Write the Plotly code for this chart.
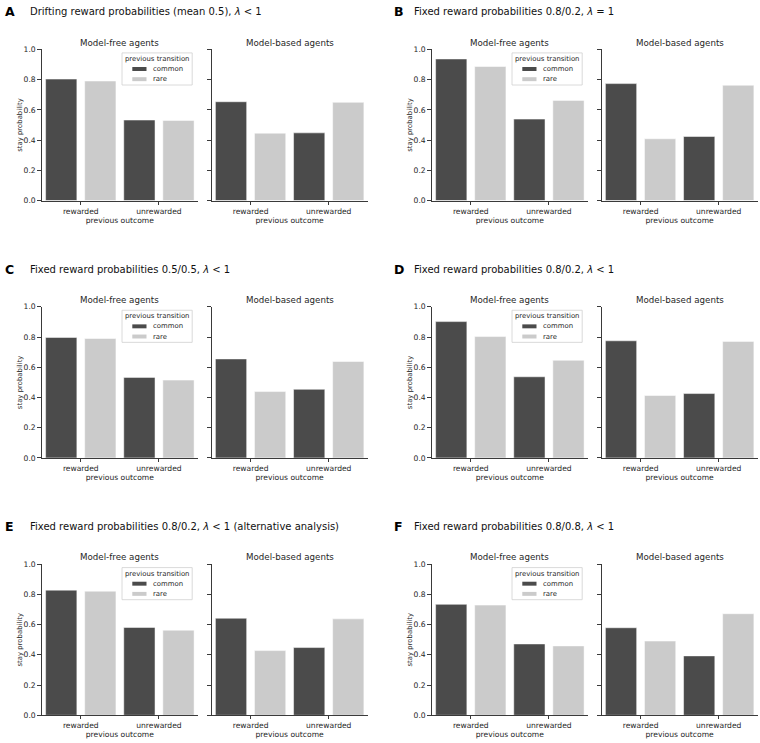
import plotly.graph_objects as go

# categories / labels
outcomes = ["rewarded", "unrewarded"]
transitions = ["common", "rare"]
letters = ["A", "B", "C", "D", "E", "F"]
panel_titles = [
    "Drifting reward probabilities (mean 0.5), <i>λ</i> < 1",
    "Fixed reward probabilities 0.8/0.2, <i>λ</i> = 1",
    "Fixed reward probabilities 0.5/0.5, <i>λ</i> < 1",
    "Fixed reward probabilities 0.8/0.2, <i>λ</i> < 1",
    "Fixed reward probabilities 0.8/0.2, <i>λ</i> < 1 (alternative analysis)",
    "Fixed reward probabilities 0.8/0.8, <i>λ</i> < 1",
]

# stay probabilities per panel, [rewarded, unrewarded]
mf_common = [[0.804, 0.533], [0.937, 0.539], [0.797, 0.533],
             [0.902, 0.537], [0.828, 0.581], [0.734, 0.472]]
mf_rare = [[0.791, 0.530], [0.887, 0.663], [0.790, 0.515],
           [0.803, 0.646], [0.821, 0.563], [0.729, 0.459]]
mb_common = [[0.654, 0.448], [0.774, 0.424], [0.655, 0.454],
             [0.775, 0.426], [0.642, 0.448], [0.579, 0.393]]
mb_rare = [[0.446, 0.650], [0.409, 0.763], [0.439, 0.638],
           [0.413, 0.771], [0.428, 0.638], [0.491, 0.672]]

W, H = 760, 743
DARK = "#4b4b4b"
LIGHT = "#cbcbcb"
AXC = "#3a3a3a"
TXT = "#262626"
FONT = "DejaVu Sans"

def fx(px):
    return px / W

def fy(py):
    return 1 - py / H

col_left = [41.7, 431.7]
row_top = [46.0, 306.5, 567.0]
plot_w = 156.3
plot_h = 153.0
mb_shift = 169.8

fig = go.Figure()
layout = {}
annotations = []
shapes = []

for p in range(6):
    row, col = p // 2, p % 2
    top = row_top[row]
    for j, (name, common, rare) in enumerate([
            ("Model-free agents", mf_common[p], mf_rare[p]),
            ("Model-based agents", mb_common[p], mb_rare[p])]):
        k = 2 * p + j + 1
        left = col_left[col] + j * mb_shift
        xa, ya = f"x{k}", f"y{k}"
        for vals, color, tr in [(common, DARK, "common"), (rare, LIGHT, "rare")]:
            fig.add_trace(go.Bar(
                x=outcomes, y=vals, name=tr, marker_color=color,
                marker_line=dict(color="white", width=0.5),
                xaxis=xa, yaxis=ya, showlegend=False,
            ))
        layout[f"xaxis{k}"] = dict(
            domain=[fx(left), fx(left + plot_w)], anchor=ya,
            type="category", range=[-0.5, 1.5],
            showline=True, linecolor=AXC, linewidth=1,
            ticks="outside", ticklen=3, tickcolor=AXC,
            tickfont=dict(size=7.6, color=TXT), showgrid=False,
            title=dict(text="previous outcome", font=dict(size=7.6, color=TXT), standoff=0),
        )
        layout[f"yaxis{k}"] = dict(
            domain=[fy(top + plot_h), fy(top)], anchor=xa,
            range=[0, 1], dtick=0.2, tick0=0, tickformat=".1f",
            showline=True, linecolor=AXC, linewidth=1,
            ticks="outside", ticklen=3.5, tickcolor=AXC,
            tickfont=dict(size=7.6, color=TXT), showgrid=False, zeroline=False,
            showticklabels=(j == 0),
            title=dict(text="stay probability" if j == 0 else "",
                       font=dict(size=6.9, color=TXT), standoff=0),
        )
        annotations.append(dict(
            x=fx(left + plot_w / 2), y=fy(top - 7), xref="paper", yref="paper",
            text=name, showarrow=False, font=dict(size=8.7, color=TXT),
            xanchor="center", yanchor="middle",
        ))
        if j == 0:
            # legend box inside the model-free subplot
            shapes.append(dict(
                type="rect", xref="paper", yref="paper",
                x0=fx(left + 80.3), x1=fx(left + 150.5),
                y0=fy(top + 36), y1=fy(top + 3.5),
                line=dict(color="#d0d0d0", width=0.8),
                fillcolor="rgba(255,255,255,0.85)", layer="above",
            ))
            annotations.append(dict(
                x=fx(left + 115.4), y=fy(top + 9.5), xref="paper", yref="paper",
                text="previous transition", showarrow=False,
                font=dict(size=6.9, color=TXT), xanchor="center", yanchor="middle",
            ))
            for t, (tr, color) in enumerate(zip(transitions, [DARK, LIGHT])):
                yc = top + 19.8 + t * 10.3
                shapes.append(dict(
                    type="rect", xref="paper", yref="paper",
                    x0=fx(left + 90.6), x1=fx(left + 104.8),
                    y0=fy(yc + 2), y1=fy(yc - 2),
                    line=dict(width=0), fillcolor=color, layer="above",
                ))
                annotations.append(dict(
                    x=fx(left + 109.5), y=fy(yc), xref="paper", yref="paper",
                    text=tr, showarrow=False, font=dict(size=6.9, color=TXT),
                    xanchor="left", yanchor="middle",
                ))
    # panel letter and title
    annotations.append(dict(
        x=fx(2.5 + col * 389), y=fy(8 + row * 260.3), xref="paper", yref="paper",
        text=f"<b>{letters[p]}</b>", showarrow=False,
        font=dict(size=12.5, color="black", family="DejaVu Sans"),
        xanchor="left", yanchor="middle",
    ))
    annotations.append(dict(
        x=fx(27.5 + col * 384.8), y=fy(8 + row * 260.3), xref="paper", yref="paper",
        text=panel_titles[p], showarrow=False,
        font=dict(size=10, color="#111111"),
        xanchor="left", yanchor="middle",
    ))

fig.update_layout(
    width=W, height=H,
    margin=dict(l=0, r=0, t=0, b=0),
    paper_bgcolor="white", plot_bgcolor="white",
    barmode="group", bargap=0.0, bargroupgap=0.2,
    font=dict(family=FONT, color=TXT),
    annotations=annotations, shapes=shapes,
    showlegend=False,
    **layout,
)

# the page's default body margin would push the 760x743 figure off the window
fig.write_html(
    "out.html",
    config={"displayModeBar": False},
    post_script="document.body.style.margin='0';document.body.style.overflow='hidden';",
)
